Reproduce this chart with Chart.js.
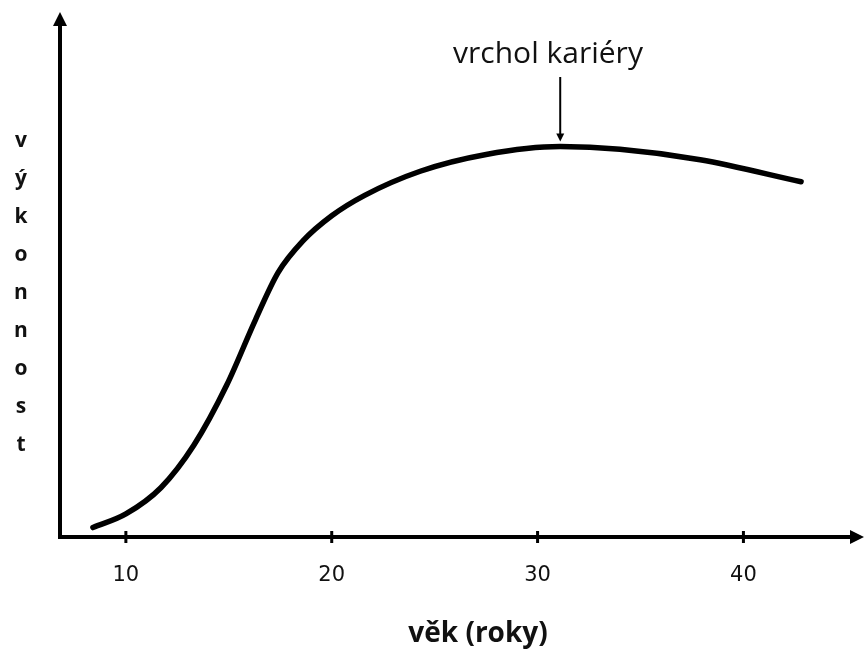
<!DOCTYPE html>
<html lang="cs">
<head>
    <meta charset="UTF-8">
    <title>Výkonnost a věk</title>
    <script src="https://cdn.jsdelivr.net/npm/chart.js"></script>
    <style>
        body {
            margin: 0;
            background-color: #ffffff;
        }
        #graf {
            display: block;
        }
    </style>
</head>
<body>
    <canvas id="graf" width="865" height="652"></canvas>

    <script>
        // vek (roky) a vykonnost
        const vek = [8.4, 10.0, 11.7, 13.3, 14.9, 16.3, 17.4, 18.6, 20.0, 21.6, 24.3, 27.5, 31.1, 34.0, 37.9, 42.8];
        const vykonnost = [1.8, 4.4, 9.4, 17.5, 29.0, 41.5, 50.5, 56.5, 61.3, 65.2, 69.8, 73.0, 74.5, 74.0, 72.0, 67.8];
        const popiskyOsyX = [10, 20, 30, 40];
        const vrcholVek = 31.1;
        const vrcholText = 'vrchol kariéry';
        const nazevOsyX = 'věk (roky)';
        const nazevOsyY = 'výkonnost';

        const body = vek.map((v, i) => ({ x: v, y: vykonnost[i] }));

        // osy se sipkami, znacky, popisky
        const osyPlugin = {
            id: 'osy',
            afterDraw(chart) {
                const ctx = chart.ctx;
                const a = chart.chartArea;
                const sx = chart.scales.x;
                const sy = chart.scales.y;
                ctx.save();
                ctx.strokeStyle = '#000';
                ctx.fillStyle = '#000';
                ctx.lineWidth = 4;
                // osa Y
                ctx.beginPath();
                ctx.moveTo(a.left, a.bottom + 2);
                ctx.lineTo(a.left, 22);
                ctx.stroke();
                ctx.beginPath();
                ctx.moveTo(a.left, 12);
                ctx.lineTo(a.left - 7, 26);
                ctx.lineTo(a.left + 7, 26);
                ctx.closePath();
                ctx.fill();
                // osa X
                ctx.beginPath();
                ctx.moveTo(a.left - 2, a.bottom);
                ctx.lineTo(852, a.bottom);
                ctx.stroke();
                ctx.beginPath();
                ctx.moveTo(864, a.bottom);
                ctx.lineTo(850, a.bottom - 7);
                ctx.lineTo(850, a.bottom + 7);
                ctx.closePath();
                ctx.fill();
                // znacky
                ctx.lineWidth = 3;
                popiskyOsyX.forEach(v => {
                    const px = sx.getPixelForValue(v);
                    ctx.beginPath();
                    ctx.moveTo(px, a.bottom - 6);
                    ctx.lineTo(px, a.bottom + 6);
                    ctx.stroke();
                });
                // popisek vrcholu
                const px = sx.getPixelForValue(vrcholVek);
                const py = sy.getPixelForValue(74.5);
                ctx.lineWidth = 2;
                ctx.beginPath();
                ctx.moveTo(px, 77);
                ctx.lineTo(px, py - 8);
                ctx.stroke();
                ctx.beginPath();
                ctx.moveTo(px, py - 5);
                ctx.lineTo(px - 4, py - 13);
                ctx.lineTo(px + 4, py - 13);
                ctx.closePath();
                ctx.fill();
                ctx.font = '30px "Open Sans"';
                ctx.textAlign = 'center';
                ctx.textBaseline = 'alphabetic';
                ctx.fillStyle = '#111';
                ctx.fillText(vrcholText, 548, 63);
                // nazvy os
                ctx.textBaseline = 'middle';
                ctx.font = 'bold 28px "Open Sans"';
                ctx.fillText(nazevOsyX, 478, 634);
                ctx.font = 'bold 21px "Open Sans"';
                nazevOsyY.split('').forEach((pismeno, i) => {
                    ctx.fillText(pismeno, 21, 141 + i * 38);
                });
                ctx.restore();
            }
        };

        new Chart(document.getElementById('graf'), {
            type: 'line',
            data: {
                datasets: [{
                    data: body,
                    borderColor: '#000',
                    borderWidth: 5.5,
                    pointRadius: 0,
                    fill: false,
                    cubicInterpolationMode: 'monotone',
                    borderCapStyle: 'round'
                }]
            },
            options: {
                responsive: false,
                animation: false,
                layout: { padding: { top: 13, right: 10, left: 0, bottom: 0 } },
                plugins: {
                    legend: { display: false },
                    tooltip: { enabled: false }
                },
                scales: {
                    x: {
                        type: 'linear',
                        min: 6.8,
                        max: 45.42,
                        grid: { display: false },
                        border: { display: false },
                        afterBuildTicks: s => { s.ticks = popiskyOsyX.map(v => ({ value: v })); },
                        afterFit: s => { s.height = 115; },
                        ticks: {
                            color: '#111',
                            font: { family: 'DejaVu Sans', size: 21 },
                            padding: 18,
                            maxRotation: 0
                        }
                    },
                    y: {
                        min: 0,
                        max: 100,
                        grid: { display: false },
                        border: { display: false },
                        ticks: { display: false },
                        afterFit: s => { s.width = 60; }
                    }
                }
            },
            plugins: [osyPlugin]
        });
    </script>
</body>
</html>
